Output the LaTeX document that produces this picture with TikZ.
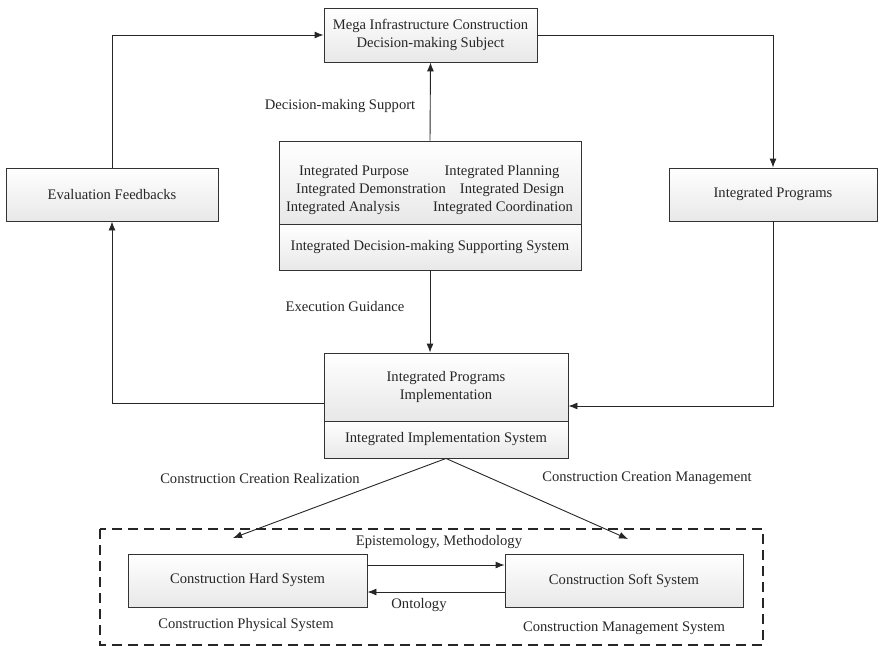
\documentclass[tikz,border=0pt]{standalone}
\usepackage{fontspec}
\setmainfont{Liberation Serif}
\usetikzlibrary{arrows.meta,calc}
\begin{document}
\begin{tikzpicture}[x=1pt,y=-1pt,
  font=\fontsize{14.6}{18}\selectfont,
  box/.style={draw=black!80,line width=0.9pt,top color=white,bottom color=black!9,
    inner sep=0pt,align=center,text=black!85},
  lbl/.style={inner sep=0pt,text=black!85,align=center},
  conn/.style={draw=black!85,line width=0.9pt},
  arr/.style={conn,-{Latex[length=9pt,width=7pt]}},
  frame/.style={draw=black!85,line width=1.4pt,dash pattern=on 10pt off 6pt}
]
\useasboundingbox (0,0) rectangle (880,645);

% boxes
\node[box,minimum width=213pt,minimum height=54pt] (top) at (430.5,35)
  {Mega Infrastructure Construction\\Decision-making Subject};
\node[box,minimum width=212pt,minimum height=53pt] (eval) at (112,194.5) {Evaluation Feedbacks};
\node[box,minimum width=208pt,minimum height=53pt] (ip) at (773,194.5) {Integrated Programs};

\node[box,minimum width=302pt,minimum height=83pt] (decup) at (430,182.5) {};
\node[box,minimum width=302pt,minimum height=46pt] (declow) at (430,247)
  {Integrated Decision-making Supporting System};
\node[lbl] (t1) at (354,172) {Integrated Purpose};
\node[lbl] (t2) at (371,190) {Integrated Demonstration};
\node[lbl] (t3) at (343,208) {Integrated Analysis};
\node[lbl] (t4) at (502,172) {Integrated Planning};
\node[lbl] (t5) at (512,190) {Integrated Design};
\node[lbl] (t6) at (503,208) {Integrated Coordination};

\node[box,minimum width=244pt,minimum height=68pt] (implup) at (446,387)
  {Integrated Programs\\Implementation};
\node[box,minimum width=244pt,minimum height=37pt] (impllow) at (446,439.5)
  {Integrated Implementation System};

\node[box,minimum width=239pt,minimum height=53pt] (hard) at (247.5,580.5) {Construction Hard System};
\node[box,minimum width=238pt,minimum height=53pt] (soft) at (624,580.5) {Construction Soft System};

% dashed frame
\draw[frame] (100,529) rectangle (763,645);

% labels
\node[lbl] (l1) at (340,106) {Decision-making Support};
\node[lbl] (l2) at (345,307) {Execution Guidance};
\node[lbl] (l3) at (260,478) {Construction Creation Realization};
\node[lbl] (l4) at (647,478) {Construction Creation Management};
\node[lbl] (l5) at (439,542) {Epistemology, Methodology};
\node[lbl] (l6) at (419,605) {Ontology};
\node[lbl] (l7) at (246,625) {Construction Physical System};
\node[lbl] (l8) at (624,628) {Construction Management System};

% connectors
\coordinate (c1) at (233,538);
\coordinate (c2) at (628,539);
\draw[arr] (eval.north) |- (top.west);
\draw[arr] (top.east) -| (ip.north);
\draw[arr] (decup.north) -- (top.south);
\draw[arr] (declow.south) -- (declow.south |- implup.north);
\draw[arr] ([yshift=-16pt]implup.west) -| (eval.south);
\draw[arr] (ip.south) |- ([yshift=-19pt]implup.east);
\draw[arr] (impllow.south) -- (c1);
\draw[arr] (impllow.south) -- (c2);
\draw[arr] ([yshift=15.5pt]hard.east) -- ([yshift=15.5pt]soft.west);
\draw[arr] ([yshift=-11.5pt]soft.west) -- ([yshift=-11.5pt]hard.east);
\end{tikzpicture}
\end{document}
